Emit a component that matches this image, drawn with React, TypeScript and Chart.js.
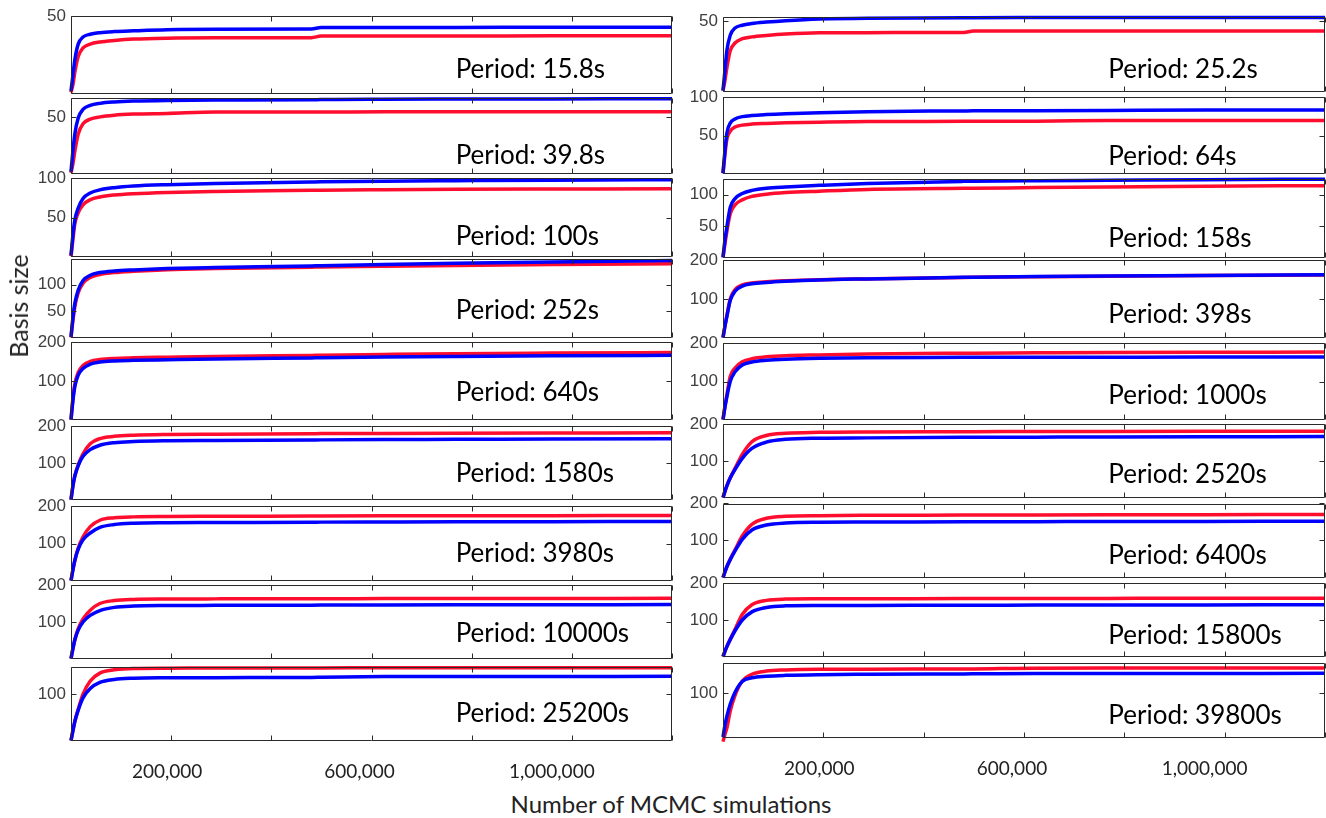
import React, { useEffect, useRef } from 'react';
import { Chart, registerables } from 'chart.js';

Chart.register(...registerables);

// ---------- data ----------
const X_VALUES = [0, 4000, 8000, 15000, 25000, 40000, 60000, 90000, 130000, 200000, 300000, 500000, 520000, 650000, 800000, 1000000, 1250000];
const X_MAX = 1250000;
const X_STEP = 200000;
const X_TICK_LABELS = [200000, 600000, 1000000];
const LABEL_X = 800000;

const BLUE_15_8 = [2, 12, 22, 32, 36.5, 38.3, 39.3, 40, 40.5, 41.2, 41.5, 41.6, 42.6, 42.7, 42.7, 42.8, 42.8];
const RED_15_8 = [1, 6, 14, 24, 29.5, 32, 33.3, 34.3, 35.2, 35.8, 36, 36.1, 37.1, 37.2, 37.2, 37.3, 37.3];
const BLUE_39_8 = [2, 20, 35, 49, 56.5, 60, 61.8, 63, 63.8, 64.4, 64.7, 64.9, 65.2, 65.5, 65.6, 65.7, 65.8];
const RED_39_8 = [1, 9, 20, 35, 44, 48, 50, 51.5, 52.4, 53, 54.2, 54.3, 54.3, 54.4, 54.4, 54.5, 54.5];
const BLUE_100 = [2, 28, 47, 62, 74, 81, 85, 87.8, 89.8, 91.5, 93, 95, 95.2, 96, 96.6, 97.3, 97.8];
const RED_100 = [1, 22, 42, 56, 66, 72.5, 76, 78.5, 80.2, 81.8, 83, 84.4, 84.6, 85.2, 85.7, 86, 86.3];
const BLUE_252 = [2, 38, 65, 90, 108, 118, 123, 126, 128, 130.5, 132.5, 135.5, 136, 138, 140.5, 143, 145.5];
const RED_252 = [1, 33, 59, 85, 103, 114, 119.5, 123, 125.5, 128.5, 130.5, 133.2, 133.5, 135, 136.5, 138, 139.5];
const BLUE_640 = [1, 50, 86, 115, 132, 143, 148.5, 151.5, 153, 154.5, 156.5, 159.2, 159.5, 161.5, 163, 164.5, 166];
const RED_640 = [1, 55, 92, 122, 140, 150, 155, 158, 159.5, 161, 163, 165.7, 166, 168, 170, 171.5, 173];
const BLUE_1580 = [1, 38, 65, 93, 118, 136, 148, 155, 158, 160, 161, 162.3, 162.5, 163.5, 164, 165, 165.5];
const RED_1580 = [1, 38, 65, 95, 125, 152, 166, 172, 175, 177, 178, 179.3, 179.5, 180, 180.5, 181, 181.5];
const BLUE_3980 = [1, 30, 55, 85, 110, 128, 143, 150.5, 154, 155.5, 156, 156.8, 157, 157.5, 158, 158.3, 158.5];
const RED_3980 = [1, 30, 55, 88, 118, 145, 162, 168.5, 171, 172, 172.5, 173.2, 173.3, 173.7, 174, 174.3, 174.5];
const BLUE_10000 = [1, 28, 52, 78, 100, 118, 131, 139.5, 143, 144.5, 145, 145.6, 145.7, 146, 146.3, 146.6, 147];
const RED_10000 = [1, 28, 52, 82, 108, 132, 150, 158, 161, 162, 162.5, 163, 163, 163.3, 163.5, 163.7, 164];
const BLUE_25200 = [1, 22, 42, 66, 92, 112, 125, 131.5, 134, 135, 135.3, 135.8, 136, 137.5, 137.7, 137.8, 138];
const RED_25200 = [1, 22, 42, 68, 100, 128, 145, 152, 155, 155.5, 156, 156, 156, 156.5, 156.5, 156.5, 156.5];

const BLUE_25_2 = [1, 15, 29, 40, 45, 47, 48.2, 49.2, 50.2, 51.4, 52, 52.2, 52.3, 52.4, 52.4, 52.5, 52.5];
const RED_25_2 = [1, 8, 17, 29, 34.5, 37.5, 38.8, 39.8, 40.8, 41.7, 41.8, 41.9, 43, 43, 43, 43, 43];
const BLUE_64 = [1, 30, 53, 66, 71.5, 74.5, 76, 77.2, 78.3, 79.5, 81, 81.9, 82, 82.3, 82.6, 83, 83.2];
const RED_64 = [1, 25, 45, 55.5, 61, 63.5, 64.8, 65.6, 66.4, 67.3, 68.2, 68.4, 68.5, 68.6, 69.4, 69.5, 69.5];
const BLUE_158 = [1, 28, 49, 80, 94, 102, 107, 110.5, 112.5, 115, 118, 121.3, 121.5, 122.3, 123, 124, 124.8];
const RED_158 = [1, 22, 42, 70, 84, 92, 97.5, 101, 103.5, 105.8, 108.5, 110.2, 110.3, 111.5, 112.5, 113.5, 114.5];
const BLUE_398 = [1, 30, 55, 96, 120, 133, 139, 142.5, 145.5, 149, 151.5, 155.5, 156, 157.5, 159, 160.5, 162];
const RED_398 = [1, 30, 57, 100, 124, 136, 141, 144, 146.5, 149.5, 151.5, 155.2, 155.5, 157, 158.5, 160, 161.5];
const BLUE_1000 = [1, 33, 60, 100, 125, 143, 150.5, 155, 158, 160.5, 162, 162.7, 162.8, 163, 163.2, 163.4, 163.5];
const RED_1000 = [1, 35, 65, 113, 135, 151, 159, 164, 167, 169, 171.5, 173.4, 173.5, 174.5, 175.5, 176, 176.5];
const BLUE_2520 = [1, 18, 33, 54, 77, 107, 134, 151, 158.5, 161.5, 162.5, 163.9, 164, 164.5, 165, 165.5, 166];
const RED_2520 = [1, 18, 33, 55, 80, 118, 152, 169, 175, 177.5, 178.5, 179.2, 179.3, 179.6, 180, 180.2, 180.5];
const BLUE_6400 = [1, 16, 30, 49, 72, 103, 128, 141, 146.5, 148.5, 149, 149.6, 149.7, 150, 150.3, 150.6, 151];
const RED_6400 = [1, 16, 30, 50, 75, 112, 143, 159, 164.3, 166, 166.8, 167.4, 167.5, 168, 168.3, 168.6, 169];
const BLUE_15800 = [1, 15, 28, 47, 71, 100, 122, 134, 138.2, 139.2, 139.5, 139.9, 140, 140.3, 140.6, 140.8, 141];
const RED_15800 = [1, 15, 28, 48, 75, 115, 141, 153, 156.5, 157.2, 157.5, 157.9, 158, 158.2, 158.4, 158.6, 158.8];
const BLUE_39800 = [2, 28, 48, 75, 102, 126, 134, 137.5, 139.5, 141, 141.8, 142.7, 142.8, 143.5, 143.7, 143.8, 144];
const RED_39800 = [-8, 8, 22, 60, 95, 127, 142, 149, 151.5, 153, 153.3, 153.5, 153.6, 155.5, 155.6, 155.8, 156];

const PANELS = [
  { period: '15.8s', blue: BLUE_15_8, red: RED_15_8, yMax: 50, yTicks: [50] },
  { period: '39.8s', blue: BLUE_39_8, red: RED_39_8, yMax: 66.5, yTicks: [50] },
  { period: '100s', blue: BLUE_100, red: RED_100, yMax: 100, yTicks: [50, 100] },
  { period: '252s', blue: BLUE_252, red: RED_252, yMax: 148.5, yTicks: [50, 100] },
  { period: '640s', blue: BLUE_640, red: RED_640, yMax: 200, yTicks: [100, 200] },
  { period: '1580s', blue: BLUE_1580, red: RED_1580, yMax: 200, yTicks: [100, 200] },
  { period: '3980s', blue: BLUE_3980, red: RED_3980, yMax: 200, yTicks: [100, 200] },
  { period: '10000s', blue: BLUE_10000, red: RED_10000, yMax: 200, yTicks: [100, 200] },
  { period: '25200s', blue: BLUE_25200, red: RED_25200, yMax: 158, yTicks: [100] },
  { period: '25.2s', blue: BLUE_25_2, red: RED_25_2, yMax: 52.8, yTicks: [50] },
  { period: '64s', blue: BLUE_64, red: RED_64, yMax: 100, yTicks: [50, 100] },
  { period: '158s', blue: BLUE_158, red: RED_158, yMax: 125, yTicks: [50, 100] },
  { period: '398s', blue: BLUE_398, red: RED_398, yMax: 200, yTicks: [100, 200] },
  { period: '1000s', blue: BLUE_1000, red: RED_1000, yMax: 200, yTicks: [100, 200] },
  { period: '2520s', blue: BLUE_2520, red: RED_2520, yMax: 200, yTicks: [100, 200] },
  { period: '6400s', blue: BLUE_6400, red: RED_6400, yMax: 197, yTicks: [100, 200] },
  { period: '15800s', blue: BLUE_15800, red: RED_15800, yMax: 200, yTicks: [100, 200] },
  { period: '39800s', blue: BLUE_39800, red: RED_39800, yMax: 167, yTicks: [100] },
];

// ---------- layout (pixel positions) ----------
const COLS = [
  { left: 71, right: 672 },
  { left: 723, right: 1325 },
];
const LAYOUT = [
  { col: 0, top: 16, bottom: 94, dy: 24 },
  { col: 0, top: 98, bottom: 174, dy: 18 },
  { col: 0, top: 178, bottom: 257, dy: 20 },
  { col: 0, top: 259, bottom: 338, dy: 27 },
  { col: 0, top: 342, bottom: 420, dy: 27 },
  { col: 0, top: 426, bottom: 500, dy: 26 },
  { col: 0, top: 506, bottom: 581, dy: 27 },
  { col: 0, top: 585, bottom: 659, dy: 25 },
  { col: 0, top: 667, bottom: 741, dy: 27 },
  { col: 1, top: 17, bottom: 92, dy: 22 },
  { col: 1, top: 97, bottom: 174, dy: 17 },
  { col: 1, top: 179, bottom: 258, dy: 19 },
  { col: 1, top: 260, bottom: 338, dy: 23 },
  { col: 1, top: 343, bottom: 420, dy: 24 },
  { col: 1, top: 424, bottom: 498, dy: 23 },
  { col: 1, top: 504, bottom: 578, dy: 22 },
  { col: 1, top: 583, bottom: 657, dy: 21 },
  { col: 1, top: 663, bottom: 738, dy: 22 },
];

const RED = '#ff0d2f';
const BLUE = '#0000ff';

const framePlugin = {
  id: 'frame',
  afterDraw(chart: any, _args: any, opts: any) {
    const { ctx, chartArea: a, scales } = chart;
    const L = Math.round(a.left) + 0.5;
    const R = Math.round(a.right) - 0.5;
    const T = Math.round(a.top) + 0.5;
    const B = Math.round(a.bottom) - 0.5;
    ctx.save();
    ctx.strokeStyle = '#2a2a2a';
    ctx.lineWidth = 1;
    ctx.beginPath();
    ctx.rect(L, T, R - L, B - T);
    const tl = 5;
    scales.x.ticks.forEach((t: any) => {
      const px = Math.round(scales.x.getPixelForValue(t.value)) + 0.5;
      ctx.moveTo(px, B);
      ctx.lineTo(px, B - tl);
      ctx.moveTo(px, T);
      ctx.lineTo(px, T + tl);
    });
    scales.y.ticks.forEach((t: any) => {
      const py = Math.round(scales.y.getPixelForValue(t.value)) + 0.5;
      ctx.moveTo(L, py);
      ctx.lineTo(L + tl, py);
      ctx.moveTo(R, py);
      ctx.lineTo(R - tl, py);
    });
    ctx.stroke();
    ctx.fillStyle = '#000';
    ctx.font = '26px Lato';
    ctx.textAlign = 'left';
    ctx.textBaseline = 'middle';
    ctx.fillText('Period: ' + opts.period, scales.x.getPixelForValue(LABEL_X), a.bottom - opts.dy);
    if (opts.showX) {
      ctx.fillStyle = '#222';
      ctx.font = '19px Lato';
      ctx.textAlign = 'center';
      X_TICK_LABELS.forEach((v) => {
        ctx.fillText(v.toLocaleString('en-US'), scales.x.getPixelForValue(v), a.bottom + 31);
      });
    }
    ctx.restore();
  },
};

function Panel({ def, lay, showX }: any) {
  const ref = useRef<HTMLCanvasElement>(null);
  const col = COLS[lay.col];
  const PADL = 60;
  const PADR = 2;
  const PADT = 8;
  const PADB = showX ? 45 : 8;
  const left = col.left - PADL;
  const top = lay.top - PADT;
  const width = col.right - col.left + PADL + PADR;
  const height = lay.bottom - lay.top + PADT + PADB;

  useEffect(() => {
    const mk = (vals: number[]) => X_VALUES.map((x, i) => ({ x, y: vals[i] }));
    const chart = new Chart(ref.current as HTMLCanvasElement, {
      type: 'line',
      data: {
        datasets: [
          { data: mk(def.blue), borderColor: BLUE, borderWidth: 3.5, pointRadius: 0, cubicInterpolationMode: 'monotone', clip: false } as any,
          { data: mk(def.red), borderColor: RED, borderWidth: 3.5, pointRadius: 0, cubicInterpolationMode: 'monotone', clip: false } as any,
        ],
      },
      options: {
        responsive: false,
        maintainAspectRatio: false,
        animation: false,
        layout: { padding: { left: 0, right: PADR, top: PADT, bottom: 0 } },
        plugins: {
          legend: { display: false },
          tooltip: { enabled: false },
          frame: { period: def.period, dy: lay.dy, showX },
        } as any,
        scales: {
          x: {
            type: 'linear',
            min: 0,
            max: X_MAX,
            grid: { display: false, drawTicks: false },
            border: { display: false },
            ticks: { display: false, stepSize: X_STEP },
            afterFit: (s: any) => {
              s.height = PADB;
              s.paddingLeft = 0;
              s.paddingRight = 0;
            },
          },
          y: {
            type: 'linear',
            min: 0,
            max: def.yMax,
            grid: { display: false, drawTicks: false },
            border: { display: false },
            afterBuildTicks: (s: any) => {
              s.ticks = def.yTicks.map((v: number) => ({ value: v }));
            },
            ticks: {
              padding: 5,
              color: '#404040',
              font: { family: 'Liberation Sans', size: 17 },
              callback: (v: any) => String(v),
            },
            afterFit: (s: any) => {
              s.width = PADL;
              s.paddingTop = 0;
              s.paddingBottom = 0;
            },
          },
        },
      } as any,
      plugins: [framePlugin as any],
    });
    return () => chart.destroy();
  }, []);

  return (
    <canvas
      ref={ref}
      width={width}
      height={height}
      style={{ position: 'absolute', left, top, width, height }}
    />
  );
}

export default function App() {
  return (
    <div style={{ position: 'absolute', left: 0, top: 0, width: 1326, height: 818, background: '#fff', overflow: 'hidden' }}>
      {PANELS.map((def, i) => (
        <Panel key={i} def={def} lay={LAYOUT[i]} showX={i === 8 || i === 17} />
      ))}
      <div
        style={{
          position: 'absolute',
          left: 18,
          top: 306,
          transform: 'translate(-50%, -50%) rotate(-90deg)',
          fontFamily: 'Lato',
          fontSize: 25,
          color: '#222',
          whiteSpace: 'nowrap',
        }}
      >
        Basis size
      </div>
      <div
        style={{
          position: 'absolute',
          left: 671,
          top: 803,
          transform: 'translate(-50%, -50%)',
          fontFamily: 'Lato',
          fontSize: 24,
          color: '#222',
          whiteSpace: 'nowrap',
        }}
      >
        Number of MCMC simulations
      </div>
    </div>
  );
}
